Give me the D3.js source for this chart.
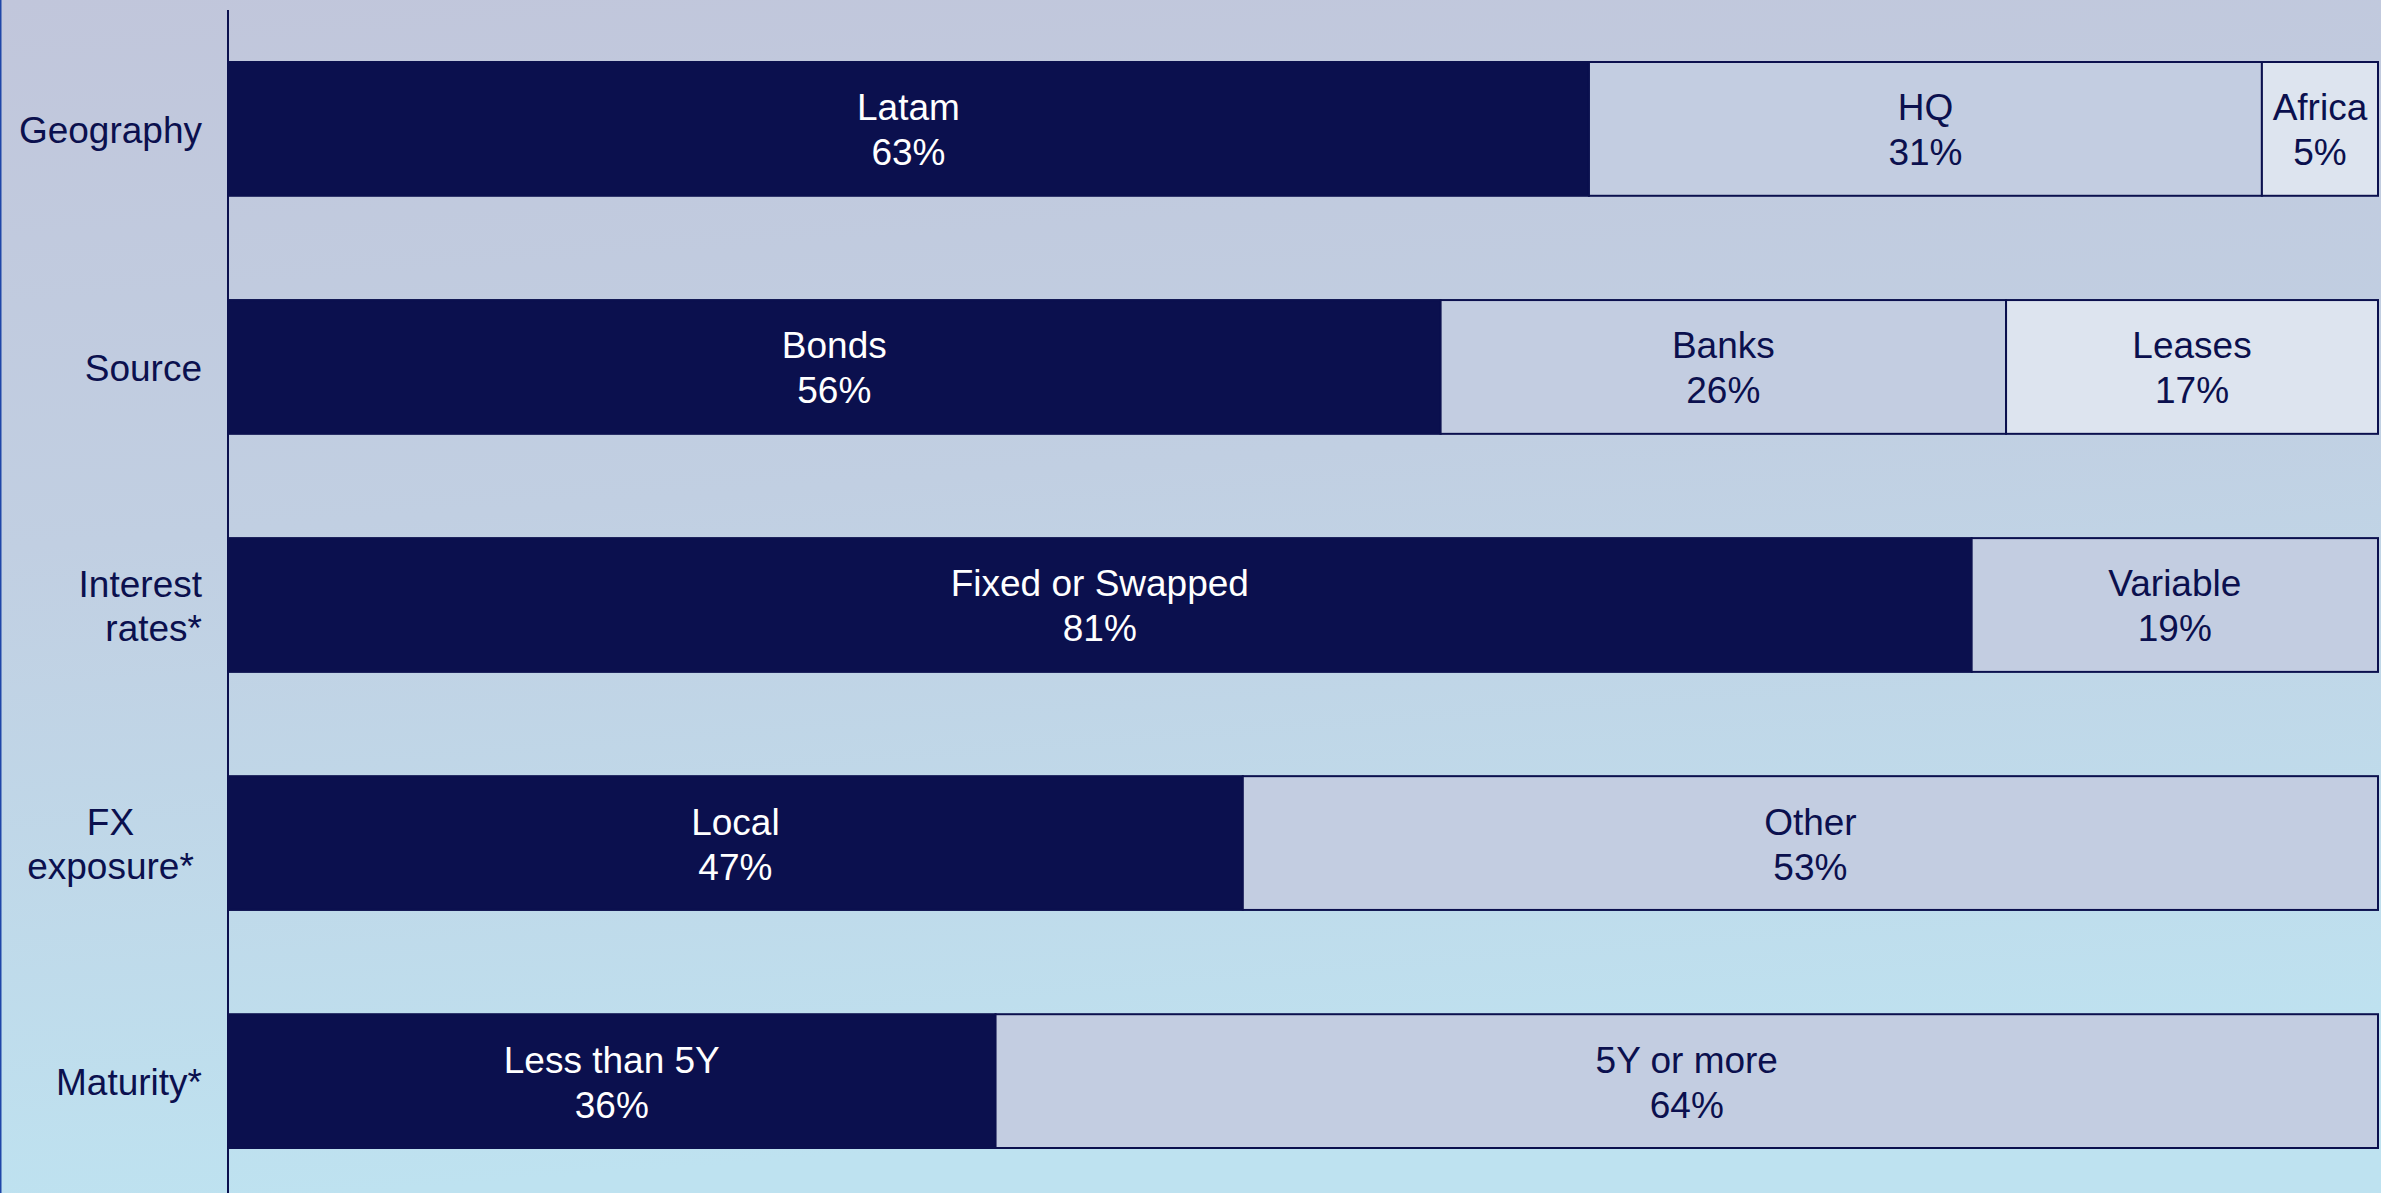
<!DOCTYPE html>
<html>
<head>
<meta charset="utf-8">
<script src="https://cdn.jsdelivr.net/npm/d3@7"></script>
<style>
  html, body { margin: 0; padding: 0; overflow: hidden; }
  svg { display: block; font-family: "Liberation Sans", Arial, sans-serif; }
</style>
</head>
<body>
<svg id="chart" width="2381" height="1193"></svg>
<script>
// categories (line breaks = how the label wraps)
const categories = ["Geography", "Source", "Interest\nrates*", "FX\nexposure*", "Maturity*"];

// segment names per category
const segmentNames = [
    ["Latam", "HQ", "Africa"],
    ["Bonds", "Banks", "Leases"],
    ["Fixed or Swapped", "Variable"],
    ["Local", "Other"],
    ["Less than 5Y", "5Y or more"]
];

// share of each segment, in %
const segmentShares = [
    [63.3, 31.3, 5.4],
    [56.4, 26.3, 17.3],
    [81.1, 18.9],
    [47.2, 52.8],
    [35.7, 64.3]
];

const xTicks = [0, 100];

// ---- style ----
const W = 2381, H = 1193;
const navy = "#0b104e";
const fills = ["#0b104e", "#c3cde1", "#dde4ef"];
const textFills = ["#ffffff", navy, navy];
const fontSize = 37;
const lineGap = 45;

const svg = d3.select("#chart");

// background gradient
const defs = svg.append("defs");
const grad = defs.append("linearGradient")
    .attr("id", "bg")
    .attr("x1", "0").attr("y1", "0")
    .attr("x2", "0.15").attr("y2", "1");
grad.append("stop").attr("offset", "0%").attr("stop-color", "#c1c6db");
grad.append("stop").attr("offset", "45%").attr("stop-color", "#c1cfe2");
grad.append("stop").attr("offset", "100%").attr("stop-color", "#bee2f0");

svg.append("rect")
    .attr("width", W).attr("height", H)
    .attr("fill", "url(#bg)");

// thin blue edge on the left
svg.append("line")
    .attr("x1", 0.75).attr("x2", 0.75)
    .attr("y1", 0).attr("y2", H)
    .attr("stroke", "#1f46a8")
    .attr("stroke-width", 1.5);

const x = d3.scaleLinear()
    .domain(d3.extent(xTicks))
    .range([228, 2378]);

const y = d3.scaleBand()
    .domain(categories)
    .range([62, 1148])
    .paddingInner(0.438)
    .paddingOuter(0);

// stack each row
const rows = categories.map((cat, i) => {
    let acc = 0;
    return segmentShares[i].map((v, j) => {
        const seg = { cat: cat, name: segmentNames[i][j], value: v, x0: acc, x1: acc + v, idx: j };
        acc += v;
        return seg;
    });
});

const row = svg.selectAll(".row")
    .data(rows)
    .enter().append("g")
    .attr("class", "row")
    .attr("transform", d => `translate(0,${y(d[0].cat)})`);

const seg = row.selectAll(".seg")
    .data(d => d)
    .enter().append("g")
    .attr("class", "seg");

seg.append("rect")
    .attr("x", d => x(d.x0))
    .attr("width", d => x(d.x1) - x(d.x0))
    .attr("y", 0)
    .attr("height", y.bandwidth())
    .attr("fill", d => fills[d.idx])
    .attr("stroke", navy)
    .attr("stroke-width", 2);

// segment labels: name + rounded %
const segText = seg.append("text")
    .attr("text-anchor", "middle")
    .attr("fill", d => textFills[d.idx])
    .attr("font-size", fontSize);

segText.append("tspan")
    .attr("x", d => (x(d.x0) + x(d.x1)) / 2)
    .attr("y", y.bandwidth() / 2 - lineGap / 2 + 14)
    .text(d => d.name);

segText.append("tspan")
    .attr("x", d => (x(d.x0) + x(d.x1)) / 2)
    .attr("y", y.bandwidth() / 2 + lineGap / 2 + 14)
    .text(d => Math.round(d.value) + "%");

// category labels on the left
const catLabel = svg.selectAll(".cat")
    .data(categories)
    .enter().append("text")
    .attr("class", "cat")
    .attr("fill", navy)
    .attr("font-size", fontSize)
    .attr("text-anchor", d => d.startsWith("FX") ? "middle" : "end");

catLabel.each(function(d) {
    const lines = d.split("\n");
    const cy = y(d) + y.bandwidth() / 2;
    const ax = d.startsWith("FX") ? 110.5 : 202;
    d3.select(this).selectAll("tspan")
        .data(lines)
        .enter().append("tspan")
        .attr("x", ax)
        .attr("y", (l, k) => cy + 14 + (k - (lines.length - 1) / 2) * 44)
        .text(l => l);
});

// vertical axis line
svg.append("line")
    .attr("x1", x(0)).attr("x2", x(0))
    .attr("y1", 10).attr("y2", H)
    .attr("stroke", navy)
    .attr("stroke-width", 2);
</script>
</body>
</html>
